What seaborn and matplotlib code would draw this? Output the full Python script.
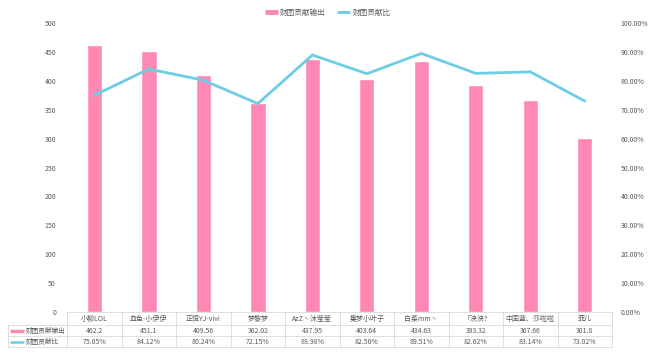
import matplotlib
matplotlib.use("Agg")
import matplotlib.pyplot as plt
import matplotlib.transforms as mtransforms
from matplotlib.lines import Line2D
from matplotlib.ticker import FuncFormatter
import seaborn as sns
import pandas as pd

names = ["小柳LOL", "血色-小伊伊", "正恒YJ-vivi", "梦黎梦", "AzZ丶沐莹莹",
         "集梦小叶子", "白菜mm丶", "「泱泱?", "中国蓝、莎啦啦", "菲儿"]
output = [462.2, 451.1, 409.56, 362.02, 437.95, 403.64, 434.63, 393.32, 367.66, 301.8]
output_text = ["462.2", "451.1", "409.56", "362.02", "437.95",
               "403.64", "434.63", "393.32", "367.66", "301.8"]
ratio = [75.05, 84.12, 80.24, 72.15, 88.98, 82.50, 89.51, 82.62, 83.14, 73.02]
series_names = ["财团贡献输出", "财团贡献比"]

pink = "#ff88b4"
cyan = "#6ccde4"
grid_c = "#d9d9d9"
text_c = "#595959"

sns.set_style("white")
plt.rcParams["font.family"] = ["Noto Sans CJK SC", "DejaVu Sans"]

df = pd.DataFrame({"name": names, "output": output, "ratio": ratio})

fig = plt.figure(figsize=(6.55, 3.62), dpi=100)
ax = fig.add_axes([0.1025, 0.138, 0.832, 0.798])

sns.barplot(data=df, x="name", y="output", color=pink, saturation=1, width=0.28, ax=ax)
ax.set_ylim(0, 500)
ax.set_xlim(-0.5, len(names) - 0.5)
ax.set_yticks(range(0, 501, 50))
ax.set_xticks([])
ax.set_xlabel("")
ax.set_ylabel("")
ax.tick_params(axis="y", labelsize=5, colors=text_c, length=0, pad=8)
for s in ax.spines.values():
    s.set_visible(False)

ax2 = ax.twinx()
sns.lineplot(x=list(range(len(names))), y=ratio, color=cyan, linewidth=2, ax=ax2)
ax2.set_ylim(0, 100)
ax2.set_yticks(range(0, 101, 10))
ax2.yaxis.set_major_formatter(FuncFormatter(lambda v, p: f"{v:.2f}%"))
ax2.tick_params(axis="y", labelsize=5, colors=text_c, length=0, pad=6)
for s in ax2.spines.values():
    s.set_visible(False)

# data table under the plot
tr = mtransforms.blended_transform_factory(ax.transData, ax.transAxes)
n = len(names)
ys = [0, -0.045, -0.083, -0.121]
for i in range(n):
    ax.text(i, -0.0225, names[i], transform=tr, ha="center", va="center",
            fontsize=5, color=text_c, clip_on=False)
    ax.text(i, -0.064, output_text[i], transform=tr, ha="center", va="center",
            fontsize=5, color=text_c, clip_on=False)
    ax.text(i, -0.102, f"{ratio[i]:.2f}%", transform=tr, ha="center", va="center",
            fontsize=5, color=text_c, clip_on=False)
for y in ys:
    ax.plot([-0.5, n - 0.5], [y, y], transform=tr, color=grid_c, lw=0.6, clip_on=False)
for i in range(n + 1):
    ax.plot([i - 0.5, i - 0.5], [0, ys[-1]], transform=tr, color=grid_c, lw=0.6, clip_on=False)

# row label cells
x0 = 8 / 655
xa = 0.1025
for y in ys[1:]:
    fig.add_artist(Line2D([x0, xa], [0.138 + y * 0.798] * 2, color=grid_c, lw=0.6))
fig.add_artist(Line2D([x0, x0], [0.138 + ys[1] * 0.798, 0.138 + ys[3] * 0.798], color=grid_c, lw=0.6))
row_y = [0.138 - 0.064 * 0.798, 0.138 - 0.102 * 0.798]
fig.add_artist(Line2D([10 / 655, 24 / 655], [row_y[0]] * 2, color=pink, lw=2.5,
                      solid_capstyle="butt"))
fig.add_artist(Line2D([10 / 655, 24 / 655], [row_y[1]] * 2, color=cyan, lw=1.8,
                      solid_capstyle="butt"))
for yy, lab in zip(row_y, series_names):
    fig.text(25.5 / 655, yy, lab, ha="left", va="center", fontsize=4.8, color=text_c)

handles = [Line2D([], [], color=pink, lw=3.5, solid_capstyle="butt"),
           Line2D([], [], color=cyan, lw=2, solid_capstyle="butt")]
fig.legend(handles, series_names, loc="center", bbox_to_anchor=(0.5, 0.965), ncol=2,
           frameon=False, fontsize=5.5, labelcolor=text_c, handlelength=1.7,
           handletextpad=0.3, columnspacing=1.5)

fig.savefig("out.png", dpi=100)
